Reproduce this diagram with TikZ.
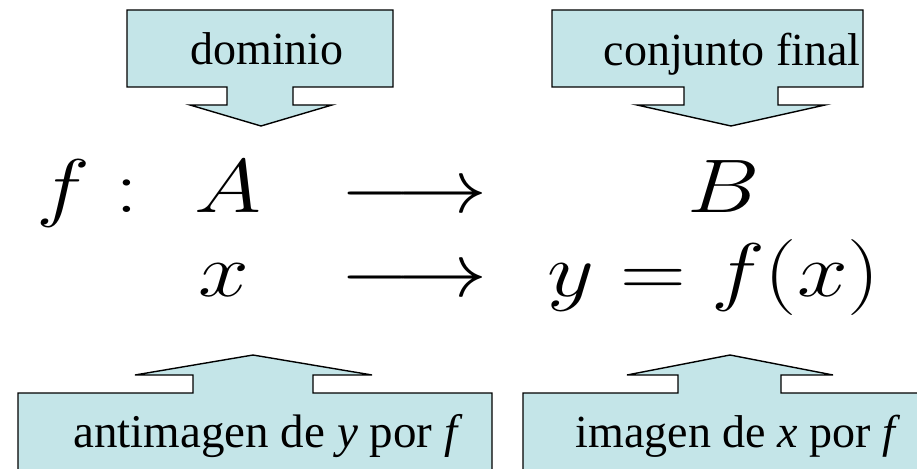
\RequirePackage{fix-cm}
\documentclass[tikz,border=0pt]{standalone}
\usepackage{graphicx}
\usepackage[no-math]{fontspec}
\newfontfamily\timesfont{Liberation Serif}
\definecolor{boxfill}{RGB}{196,229,232}
\newcommand{\stretched}[1]{\scalebox{1.2}[1]{#1}}

\begin{document}
\begin{tikzpicture}[x=1pt, y=-1pt,
	callout/.style={fill=boxfill, draw=black, line width=1.4pt, line join=miter},
	tag/.style={font=\timesfont\fontsize{46}{55}\selectfont, anchor=base, inner sep=0pt},
	formula/.style={font=\fontsize{76}{92}\selectfont, anchor=base, inner sep=0pt}]
	\clip (0,0) rectangle (917,468);
	% callouts pointing down
	\filldraw[callout] (127,10) -- (393,10) -- (393,87) -- (293,87) -- (293,105) -- (332,105) -- (261,126)
		-- (190,105) -- (227,105) -- (227,87) -- (127,87) -- cycle;
	\filldraw[callout] (552,10) -- (863,10) -- (863,87) -- (778,87) -- (778,105) -- (825,105) -- (731,126)
		-- (637,105) -- (684,105) -- (684,87) -- (552,87) -- cycle;
	% callouts pointing up
	\filldraw[callout] (18,480) -- (18,393) -- (193,393) -- (193,375) -- (135,375) -- (253,355) -- (372,375)
		-- (313,375) -- (313,393) -- (492,393) -- (492,480) -- cycle;
	\filldraw[callout] (523,480) -- (523,393) -- (678,393) -- (678,375) -- (627,375) -- (730,355) -- (833,375)
		-- (781,375) -- (781,393) -- (930,393) -- (930,480) -- cycle;
	% labels
	\node[tag] (dom) at (267,65) {dominio};
	\node[tag] (cod) at (732,66) {conjunto final};
	\node[tag, font=\timesfont\fontsize{47}{56}\selectfont] (pre) at (268,447) {antimagen de \textit{y} por \textit{f}};
	\node[tag] (img) at (738,447) {imagen de \textit{x} por \textit{f}};
	% the map
	\node[formula, anchor=base west] (fname) at (36,212) {\stretched{$f:$}};
	\node[formula] (A) at (228,212) {\stretched{$A$}};
	\node[formula] (arr1) at (414,212) {\stretched{$\longrightarrow$}};
	\node[formula] (B) at (724,212) {\stretched{$B$}};
	\node[formula] (x) at (224,296) {\stretched{$x$}};
	\node[formula] (arr2) at (414,296) {\stretched{$\longrightarrow$}};
	\node[formula] (y) at (714,296) {\stretched{$y=f(x)$}};
\end{tikzpicture}
\end{document}
